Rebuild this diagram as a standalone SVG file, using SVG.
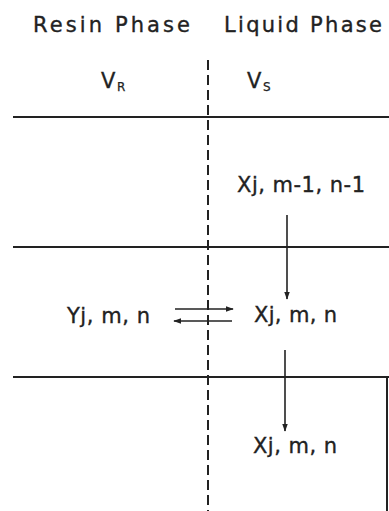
<svg xmlns="http://www.w3.org/2000/svg" width="389" height="511" viewBox="0 0 389 511">
<defs>
<style>
.t{font-family:"DejaVu Sans","Liberation Sans",sans-serif;font-size:21px;fill:#222;stroke:#222;stroke-width:0.35}
.sub{font-family:"DejaVu Sans","Liberation Sans",sans-serif;font-size:12px;fill:#222;stroke:#222;stroke-width:0.25}
.ln{stroke:#222;stroke-width:2;fill:none}
.dash{stroke:#222;stroke-width:2;fill:none;stroke-dasharray:10 5}
.ar{stroke:#222;stroke-width:1.6;fill:none}
</style>
<marker id="ah" viewBox="0 0 10 10" refX="9" refY="5" markerWidth="8" markerHeight="8" markerUnits="userSpaceOnUse" orient="auto">
<path d="M0,1.5 L10,5 L0,8.5 Z" fill="#222"/>
</marker>
</defs>
<rect width="389" height="511" fill="#fff"/>
<g id="headers">
<text class="t" x="33" y="32" textLength="157" lengthAdjust="spacing">Resin Phase</text>
<text class="t" x="224" y="32" textLength="158" lengthAdjust="spacing">Liquid Phase</text>
<text class="t" x="101" y="88">V</text>
<text class="sub" x="117" y="91">R</text>
<text class="t" x="247" y="88">V</text>
<text class="sub" x="263" y="91">S</text>
</g>
<g id="grid">
<line class="ln" x1="13" y1="117" x2="389" y2="117"/>
<line class="ln" x1="13" y1="247" x2="389" y2="247"/>
<line class="ln" x1="13" y1="377" x2="389" y2="377"/>
<line class="ln" x1="387" y1="377" x2="387" y2="511"/>
<line class="dash" x1="208" y1="60" x2="208" y2="511"/>
</g>
<g id="node-x-prev">
<text class="t" x="237" y="192" textLength="128" lengthAdjust="spacing">Xj, m-1, n-1</text>
</g>
<g id="node-y">
<text class="t" x="67" y="323" textLength="83" lengthAdjust="spacing">Yj, m, n</text>
</g>
<g id="node-x-mid">
<text class="t" x="254" y="322" textLength="83" lengthAdjust="spacing">Xj, m, n</text>
</g>
<g id="node-x-next">
<text class="t" x="253" y="453" textLength="84" lengthAdjust="spacing">Xj, m, n</text>
</g>
<g id="connectors">
<line class="ar" x1="287" y1="215" x2="287" y2="299" marker-end="url(#ah)"/>
<line class="ar" x1="285" y1="350" x2="285" y2="431" marker-end="url(#ah)"/>
<line class="ar" x1="175" y1="309" x2="233" y2="309" marker-end="url(#ah)"/>
<line class="ar" x1="232" y1="321" x2="174" y2="321" marker-end="url(#ah)"/>
</g>
</svg>
